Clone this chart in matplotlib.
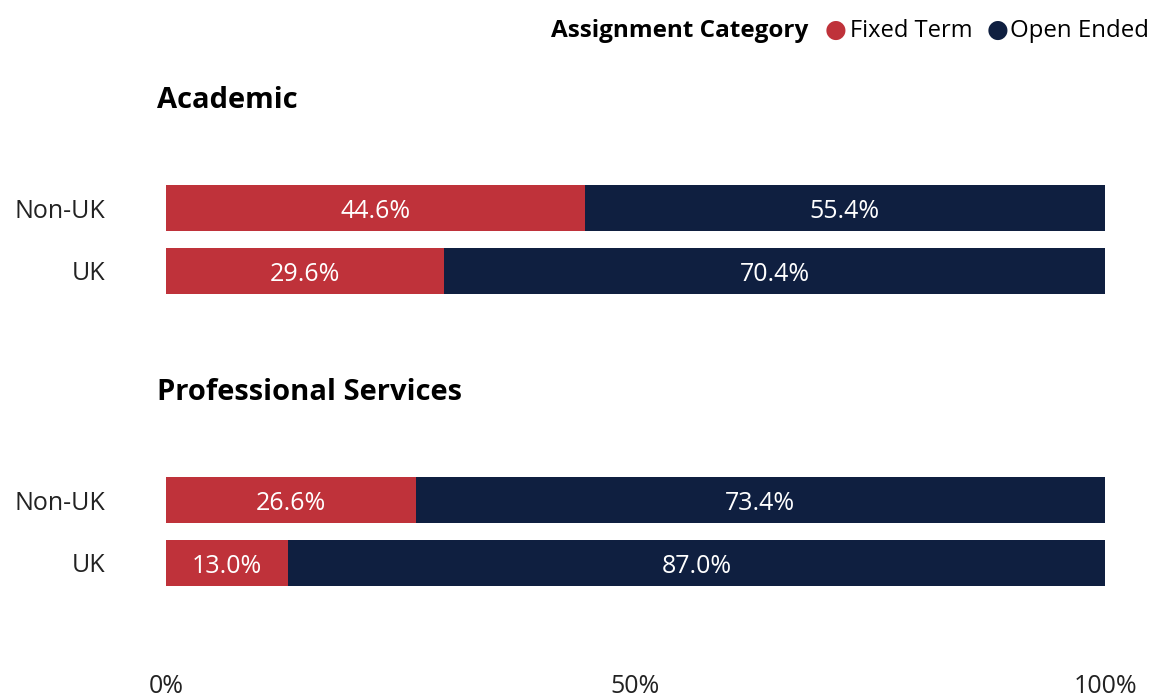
import matplotlib; matplotlib.use('Agg')
import matplotlib.pyplot as plt

plt.rcParams['font.family'] = ['Open Sans', 'DejaVu Sans']

groups = ['Academic', 'Professional Services']
rows = ['Non-UK', 'UK']
fixed = [[44.6, 29.6], [26.6, 13.0]]
open_ended = [[55.4, 70.4], [73.4, 87.0]]
xticks = [0, 50, 100]
xticklabels = ['0%', '50%', '100%']
RED = '#BF323A'; NAVY = '#0F1F40'

W, H = 1158, 697
fig = plt.figure(figsize=(W/100, H/100), dpi=100)

def px_axes(x0, y0, x1, y1):
    return fig.add_axes([x0/W, 1-y1/H, (x1-x0)/W, (y1-y0)/H])

# panel boxes (pixel top/bottom) and title positions
panels = [(176, 303, 101), (468, 595, 392)]
for k, (top, bot, ty) in enumerate(panels):
    ax = px_axes(166, top, 1105, bot)
    ypos = [1, 0]
    ax.barh(ypos, fixed[k], height=0.73, color=RED, edgecolor='none')
    ax.barh(ypos, open_ended[k], left=fixed[k], height=0.73, color=NAVY, edgecolor='none')
    for y, f, o in zip(ypos, fixed[k], open_ended[k]):
        ax.text(f/2, y-0.06, f'{f:.1f}%', ha='center', va='center', color='white', fontsize=18)
        ax.text(f+o/2, y-0.06, f'{o:.1f}%', ha='center', va='center', color='white', fontsize=18)
    ax.set_xlim(0, 100); ax.set_ylim(-0.508, 1.508)
    ax.set_yticks(ypos); ax.set_yticklabels(rows, fontsize=18, color='#222222')
    ax.tick_params(axis='y', length=0, pad=44)
    for s in ax.spines.values(): s.set_visible(False)
    if k == 1:
        ax.set_xticks(xticks); ax.set_xticklabels(xticklabels, fontsize=18, color='#222222')
        ax.tick_params(axis='x', length=0, pad=57)
    else:
        ax.set_xticks([])
    fig.text(157/W, 1-ty/H, groups[k], fontsize=21, fontweight='bold', va='center', ha='left')

# legend
ly = 31
fig.text(808/W, 1-ly/H, 'Assignment Category', fontsize=17.5, fontweight='bold', ha='right', va='center')
fig.text(836/W, 1-(ly-1)/H, '\u25CF', fontsize=18, color=RED, ha='center', va='center', family=['DejaVu Sans'])
fig.text(850/W, 1-ly/H, 'Fixed Term', fontsize=17, ha='left', va='center')
fig.text(998/W, 1-(ly-1)/H, '\u25CF', fontsize=18, color=NAVY, ha='center', va='center', family=['DejaVu Sans'])
fig.text(1010/W, 1-ly/H, 'Open Ended', fontsize=17.3, ha='left', va='center')

fig.savefig('out.png', dpi=100)
